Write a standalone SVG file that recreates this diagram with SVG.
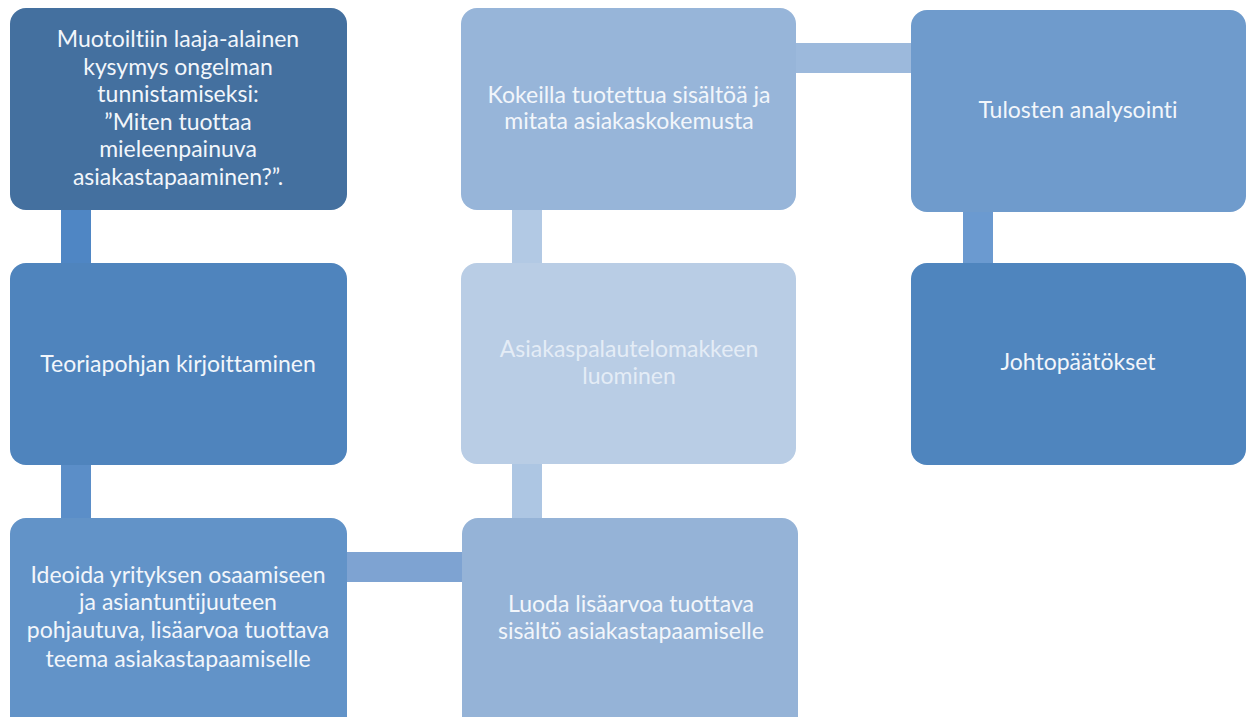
<svg xmlns="http://www.w3.org/2000/svg" width="1247" height="717" viewBox="0 0 1247 717">
<style>
.t{font-family:Lato,"Liberation Sans",sans-serif;font-size:23px;fill:#f2f6fb;text-anchor:middle;font-variant-ligatures:none}
</style>
<rect width="1247" height="717" fill="#ffffff"/>
<g id="connectors">
<rect x="61" y="209" width="30" height="55" fill="#4f86c4"/>
<rect x="61" y="463" width="30" height="57" fill="#5b8ec8"/>
<rect x="346" y="552" width="118" height="30" fill="#7ea3d2"/>
<rect x="512" y="463" width="30" height="57" fill="#adc6e3"/>
<rect x="512" y="209" width="30" height="55" fill="#b2c9e4"/>
<rect x="795" y="43" width="117" height="30" fill="#9cb9dc"/>
<rect x="963" y="210" width="30" height="55" fill="#6b9ad0"/>
</g>
<g id="n1">
<rect x="10" y="8" width="337" height="202" rx="16" fill="#44709f"/>
<text class="t"><tspan x="178" y="47">Muotoiltiin laaja-alainen</tspan><tspan x="178" y="75">kysymys ongelman</tspan><tspan x="178" y="102">tunnistamiseksi:</tspan><tspan x="178" y="130">”Miten tuottaa</tspan><tspan x="178" y="157">mieleenpainuva</tspan><tspan x="178" y="185">asiakastapaaminen?”.</tspan></text>
</g>
<g id="n2">
<rect x="10" y="263" width="337" height="202" rx="16" fill="#4f84bd"/>
<text class="t" x="178" y="372">Teoriapohjan  kirjoittaminen</text>
</g>
<g id="n3">
<rect x="10" y="518" width="337" height="215" rx="16" fill="#6293c8"/>
<text class="t"><tspan x="178" y="583">Ideoida  yrityksen osaamiseen</tspan><tspan x="178" y="610">ja asiantuntijuuteen</tspan><tspan x="178" y="638">pohjautuva, lisäarvoa tuottava</tspan><tspan x="178" y="667">teema asiakastapaamiselle</tspan></text>
</g>
<g id="n4">
<rect x="462" y="518" width="336" height="215" rx="16" fill="#95b3d7"/>
<text class="t"><tspan x="631" y="612">Luoda lisäarvoa tuottava</tspan><tspan x="631" y="639">sisältö asiakastapaamiselle</tspan></text>
</g>
<g id="n5">
<rect x="461" y="263" width="335" height="201" rx="16" fill="#b9cde5"/>
<text class="t" style="fill:#e4ecf6"><tspan x="629" y="357">Asiakaspalautelomakkeen</tspan><tspan x="629" y="384">luominen</tspan></text>
</g>
<g id="n6">
<rect x="461" y="8" width="335" height="202" rx="16" fill="#97b5d9"/>
<text class="t"><tspan x="629" y="103">Kokeilla  tuotettua sisältöä ja</tspan><tspan x="629" y="129">mitata asiakaskokemusta</tspan></text>
</g>
<g id="n7">
<rect x="911" y="10" width="335" height="202" rx="16" fill="#6f9bcc"/>
<text class="t" x="1078" y="118">Tulosten analysointi</text>
</g>
<g id="n8">
<rect x="911" y="263" width="335" height="202" rx="16" fill="#4f85be"/>
<text class="t" x="1078" y="370">Johtopäätökset</text>
</g>
</svg>
